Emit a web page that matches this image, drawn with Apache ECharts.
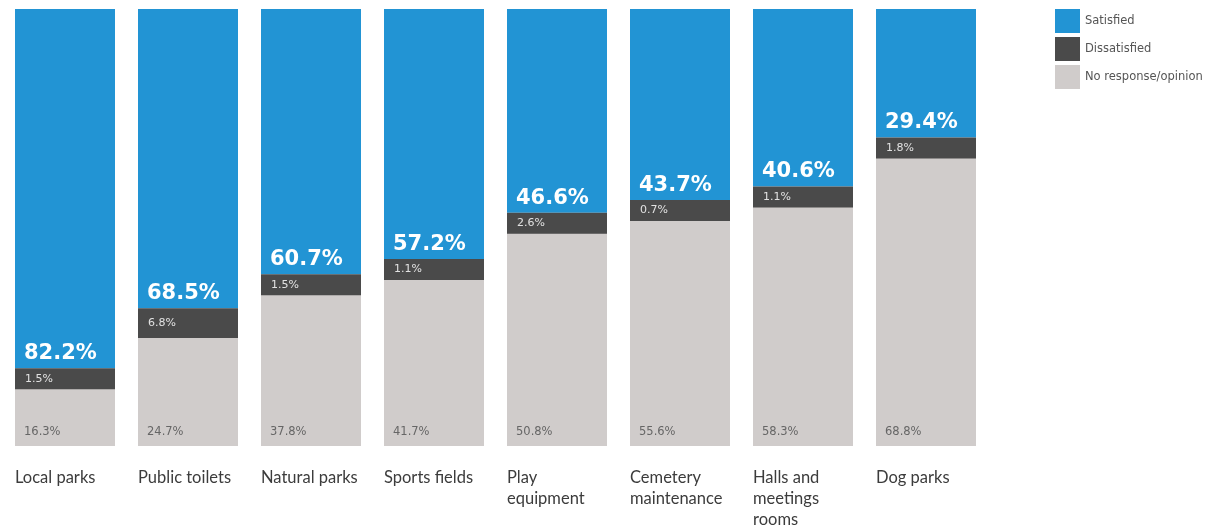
<!DOCTYPE html>
<html>
<head>
<meta charset="utf-8">
<script src="https://cdn.jsdelivr.net/npm/echarts@6/dist/echarts.min.js"></script>
<style>
  html, body { margin: 0; padding: 0; background: #ffffff; }
  #chart { width: 1227px; height: 528px; }
</style>
</head>
<body>
<div id="chart"></div>
<script>
// Facility satisfaction survey, percent of respondents
const categories = [
  'Local parks', 'Public toilets', 'Natural parks', 'Sports fields',
  'Play\nequipment', 'Cemetery\nmaintenance', 'Halls and\nmeetings\nrooms', 'Dog parks'
];
const satisfied    = [82.2, 68.5, 60.7, 57.2, 46.6, 43.7, 40.6, 29.4];
const dissatisfied = [1.5, 6.8, 1.5, 1.1, 2.6, 0.7, 1.1, 1.8];
const noResponse   = [16.3, 24.7, 37.8, 41.7, 50.8, 55.6, 58.3, 68.8];

const BLUE = '#2294d4';
const DARK = '#4a4a4a';
const GREY = '#d0cccb';
const CAT_FONT = 'Lato, "Open Sans", sans-serif';
const NUM_FONT = '"DejaVu Sans", Verdana, sans-serif';

const chart = echarts.init(document.getElementById('chart'));

const pct = p => p.value.toFixed(1) + '%';

chart.setOption({
  animation: false,
  backgroundColor: '#ffffff',
  grid: { left: 3.5, width: 984, top: 9, bottom: 82 },
  legend: {
    orient: 'vertical',
    left: 1055,
    top: 9,
    padding: 0,
    icon: 'rect',
    itemWidth: 25,
    itemHeight: 24,
    itemGap: 4,
    textStyle: { fontSize: 11.5, color: '#555', fontFamily: NUM_FONT },
    data: ['Satisfied', 'Dissatisfied', 'No response/opinion']
  },
  xAxis: {
    type: 'category',
    data: categories,
    axisLine: { show: false },
    axisTick: { show: false },
    axisLabel: {
      interval: 0,
      margin: 21,
      verticalAlign: 'top',
      formatter: v => v.split('\n').map(s => '{a|' + s + '}').join('\n'),
      rich: {
        a: { width: 100, align: 'left', fontSize: 16.5, lineHeight: 21, color: '#3c3c3c', fontFamily: CAT_FONT }
      }
    }
  },
  yAxis: {
    type: 'value',
    min: 0,
    max: 100,
    inverse: true,
    show: false,
    splitLine: { show: false }
  },
  series: [
    {
      name: 'Satisfied',
      type: 'bar',
      stack: 'total',
      barWidth: 100,
      data: satisfied,
      itemStyle: { color: BLUE },
      label: {
        show: true,
        position: 'insideBottomLeft',
        distance: 4,
        offset: [5, 0],
        formatter: pct,
        color: '#ffffff',
        fontSize: 21,
        fontWeight: 'bold',
        fontFamily: NUM_FONT
      }
    },
    {
      name: 'Dissatisfied',
      type: 'bar',
      stack: 'total',
      barWidth: 100,
      barMinHeight: 21,
      z: 5,
      data: dissatisfied,
      itemStyle: { color: DARK },
      label: {
        show: true,
        position: 'insideLeft',
        distance: 10,
        formatter: pct,
        color: '#e2e2e2',
        fontSize: 11,
        fontFamily: NUM_FONT
      }
    },
    {
      name: 'No response/opinion',
      type: 'bar',
      stack: 'total',
      barWidth: 100,
      data: noResponse,
      itemStyle: { color: GREY },
      label: {
        show: true,
        position: 'insideBottomLeft',
        distance: 8,
        offset: [1, 0],
        formatter: pct,
        color: '#666666',
        fontSize: 11.5,
        fontFamily: NUM_FONT
      }
    }
  ]
});
</script>
</body>
</html>
